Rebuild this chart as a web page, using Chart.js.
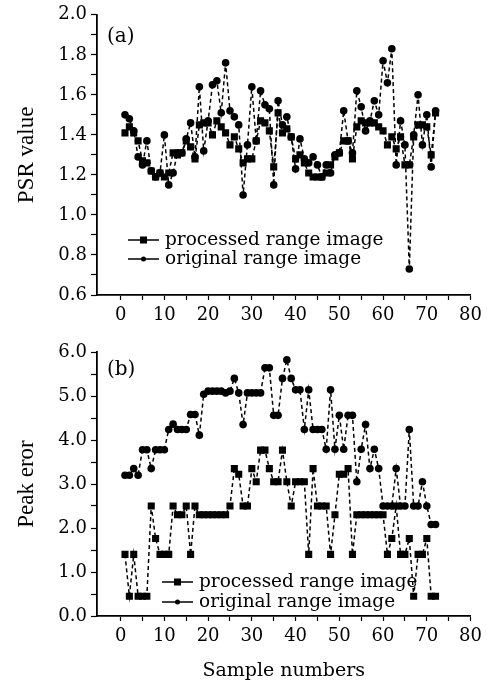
<!DOCTYPE html>
<html>
<head>
<meta charset="utf-8">
<script src="https://cdn.jsdelivr.net/npm/chart.js@4.4.0/dist/chart.umd.min.js"></script>
<style>
  html, body { margin: 0; padding: 0; background: #fff; }
  #wrap { position: relative; width: 487px; height: 683px; }
  .box { position: absolute; left: 0; width: 487px; }
  #boxA { top: 0; height: 330px; }
  #boxB { top: 330px; height: 353px; }
</style>
</head>
<body>
<div id="wrap">
  <div class="box" id="boxA"><canvas id="chartA"></canvas></div>
  <div class="box" id="boxB"><canvas id="chartB"></canvas></div>
</div>
<script>
// sample index on the x axis
const samples = [1,2,3,4,5,6,7,8,9,10,11,12,13,14,15,16,17,18,19,20,21,22,23,24,25,26,27,28,29,30,31,32,33,34,35,36,
  37,38,39,40,41,42,43,44,45,46,47,48,49,50,51,52,53,54,55,56,57,58,59,60,61,62,63,64,65,66,67,68,69,70,71,72];

// (a) PSR value
const psrProcessed = [1.41,1.44,1.41,1.37,1.27,1.26,1.22,1.19,1.21,1.19,1.21,1.31,1.30,1.31,1.37,1.34,1.28,1.45,1.46,1.46,1.40,1.47,1.44,1.41,
  1.35,1.39,1.33,1.26,1.28,1.28,1.37,1.47,1.46,1.42,1.24,1.51,1.41,1.43,1.39,1.28,1.30,1.26,1.21,1.19,1.19,1.19,1.21,1.25,
  1.29,1.31,1.37,1.37,1.28,1.44,1.47,1.46,1.46,1.46,1.44,1.42,1.35,1.39,1.33,1.39,1.25,1.25,1.39,1.45,1.45,1.44,1.30,1.51];
const psrOriginal = [1.50,1.48,1.42,1.29,1.25,1.37,1.22,1.19,1.21,1.40,1.15,1.21,1.31,1.31,1.38,1.46,1.29,1.64,1.32,1.47,1.65,1.67,1.51,1.76,
  1.52,1.49,1.45,1.10,1.35,1.64,1.37,1.62,1.55,1.53,1.15,1.57,1.45,1.49,1.39,1.23,1.38,1.28,1.26,1.29,1.25,1.19,1.25,1.21,
  1.30,1.31,1.52,1.37,1.31,1.62,1.54,1.42,1.47,1.57,1.50,1.77,1.66,1.83,1.25,1.47,1.35,0.73,1.40,1.60,1.35,1.50,1.24,1.52];

// (b) Peak error
const peakProcessed = [1.4,0.45,1.4,0.45,0.45,0.45,2.5,1.76,1.4,1.4,1.4,2.5,2.3,2.3,2.5,1.4,2.5,2.3,2.3,2.3,2.3,2.3,2.3,2.3,
  2.5,3.35,3.22,2.5,2.5,3.35,3.05,3.77,3.77,3.35,3.05,3.05,3.77,3.05,2.5,3.05,3.05,3.05,1.4,3.35,2.5,2.5,2.5,1.4,
  2.3,3.22,3.22,3.35,1.4,2.3,2.3,2.3,2.3,2.3,2.3,2.3,1.4,1.76,2.5,1.4,1.4,1.76,0.45,1.4,1.4,1.76,0.45,0.45];
const peakOriginal = [3.2,3.2,3.35,3.2,3.78,3.78,3.35,3.78,3.78,3.78,4.24,4.36,4.24,4.24,4.24,4.58,4.58,4.11,5.04,5.11,5.11,5.11,5.11,5.07,
  5.11,5.40,5.07,4.35,5.07,5.07,5.07,5.07,5.64,5.64,4.56,4.56,5.40,5.82,5.40,5.14,5.14,4.24,5.14,4.24,4.24,4.24,3.79,5.14,
  3.79,4.56,3.79,4.56,4.56,3.05,3.79,4.35,3.35,3.79,3.35,2.5,2.5,2.5,3.35,2.5,2.5,4.24,2.5,2.5,3.05,2.5,2.08,2.08];

const xTicks = [0,5,10,15,20,25,30,35,40,45,50,55,60,65,70,75,80];
const legendNames = ['processed range image', 'original range image'];

const serif = "'DejaVu Serif', serif";
const timesLike = "'Liberation Serif', serif";

const keyPlugin = {
    id: 'seriesKey',
    afterDraw(chart, args, opts) {
        const ctx = chart.ctx;
        const area = chart.chartArea;
        ctx.save();
        // panel tag
        ctx.fillStyle = '#000';
        ctx.font = '20px ' + serif;
        ctx.textBaseline = 'middle';
        ctx.fillText(opts.tag, area.left + 10, area.top + opts.tagDy);

        ctx.font = '18.5px ' + serif;
        legendNames.forEach((name, i) => {
            const y = area.bottom + opts.rows[i];
            const x0 = area.left + opts.dx;
            ctx.strokeStyle = '#000';
            ctx.lineWidth = 1.5;
            ctx.setLineDash([]);
            ctx.beginPath();
            ctx.moveTo(x0, y);
            ctx.lineTo(x0 + 31, y);
            ctx.stroke();
            ctx.beginPath();
            if (i === 0) {
                ctx.rect(x0 + 12, y - 3.5, 7, 7);
            } else {
                ctx.arc(x0 + 15.5, y, 2.5, 0, Math.PI * 2);
            }
            ctx.fill();
            ctx.fillText(name, x0 + 37, y);
        });
        ctx.restore();
    }
};

function makeDatasets(processed, original) {
    return [{
        label: legendNames[0],
        data: samples.map((s, i) => ({x: s, y: processed[i]})),
        borderColor: '#000',
        backgroundColor: '#000',
        borderWidth: 1.5,
        borderDash: [4, 3],
        pointStyle: 'rect',
        pointRadius: 5,
        pointBorderWidth: 0,
        tension: 0
    }, {
        label: legendNames[1],
        data: samples.map((s, i) => ({x: s, y: original[i]})),
        borderColor: '#000',
        backgroundColor: '#000',
        borderWidth: 1.5,
        borderDash: [4, 3],
        pointStyle: 'circle',
        pointRadius: 3.8,
        pointBorderWidth: 0,
        tension: 0
    }];
}

function xScale(withTitle) {
    return {
        type: 'linear',
        min: -5.4,
        max: 80,
        afterBuildTicks: scale => { scale.ticks = xTicks.map(v => ({value: v})); },
        afterFit: scale => { scale.height = withTitle ? 67 : 35; },
        grid: { drawOnChartArea: false, color: '#000', tickLength: 5, tickWidth: 1.2 },
        border: { color: '#000', width: 1.8 },
        ticks: {
            color: '#000',
            font: { family: serif, size: 18 },
            padding: 5,
            maxRotation: 0,
            autoSkip: false,
            callback: v => (v % 10 === 0 ? String(v) : '')
        },
        title: {
            display: withTitle,
            text: 'Sample numbers',
            color: '#000',
            font: { family: serif, size: 19 },
            padding: { top: 0, bottom: 1 }
        }
    };
}

function yScale(min, max, step, labelEvery, title) {
    return {
        min: min,
        max: max,
        afterFit: scale => { scale.width = 97; },
        grid: { drawOnChartArea: false, color: '#000', tickLength: 6, tickWidth: 1.2 },
        border: { color: '#000', width: 1.8 },
        ticks: {
            stepSize: step,
            color: '#000',
            font: { family: serif, size: 18 },
            padding: 4,
            autoSkip: false,
            callback: v => (Math.round(v / step) % labelEvery === 0 ? v.toFixed(1) : '')
        },
        title: {
            display: true,
            text: title,
            color: '#000',
            font: { family: timesLike, size: 23 },
            padding: { top: 13, bottom: 0 }
        }
    };
}

new Chart(document.getElementById('chartA'), {
    type: 'line',
    data: { datasets: makeDatasets(psrProcessed, psrOriginal) },
    options: {
        responsive: true,
        maintainAspectRatio: false,
        animation: false,
        layout: { padding: { top: 13, right: 15, left: 0, bottom: 0 } },
        plugins: {
            legend: { display: false },
            tooltip: { enabled: false },
            seriesKey: { tag: '(a)', tagDy: 22, rows: [-55, -36], dx: 31 }
        },
        scales: {
            x: xScale(false),
            y: yScale(0.6, 2.0, 0.1, 2, 'PSR value')
        }
    },
    plugins: [keyPlugin]
});

new Chart(document.getElementById('chartB'), {
    type: 'line',
    data: { datasets: makeDatasets(peakProcessed, peakOriginal) },
    options: {
        responsive: true,
        maintainAspectRatio: false,
        animation: false,
        layout: { padding: { top: 22, right: 15, left: 0, bottom: 0 } },
        plugins: {
            legend: { display: false },
            tooltip: { enabled: false },
            seriesKey: { tag: '(b)', tagDy: 18, rows: [-34, -14], dx: 65 }
        },
        scales: {
            x: xScale(true),
            y: yScale(0, 6, 0.5, 2, 'Peak eror')
        }
    },
    plugins: [keyPlugin]
});
</script>
</body>
</html>
